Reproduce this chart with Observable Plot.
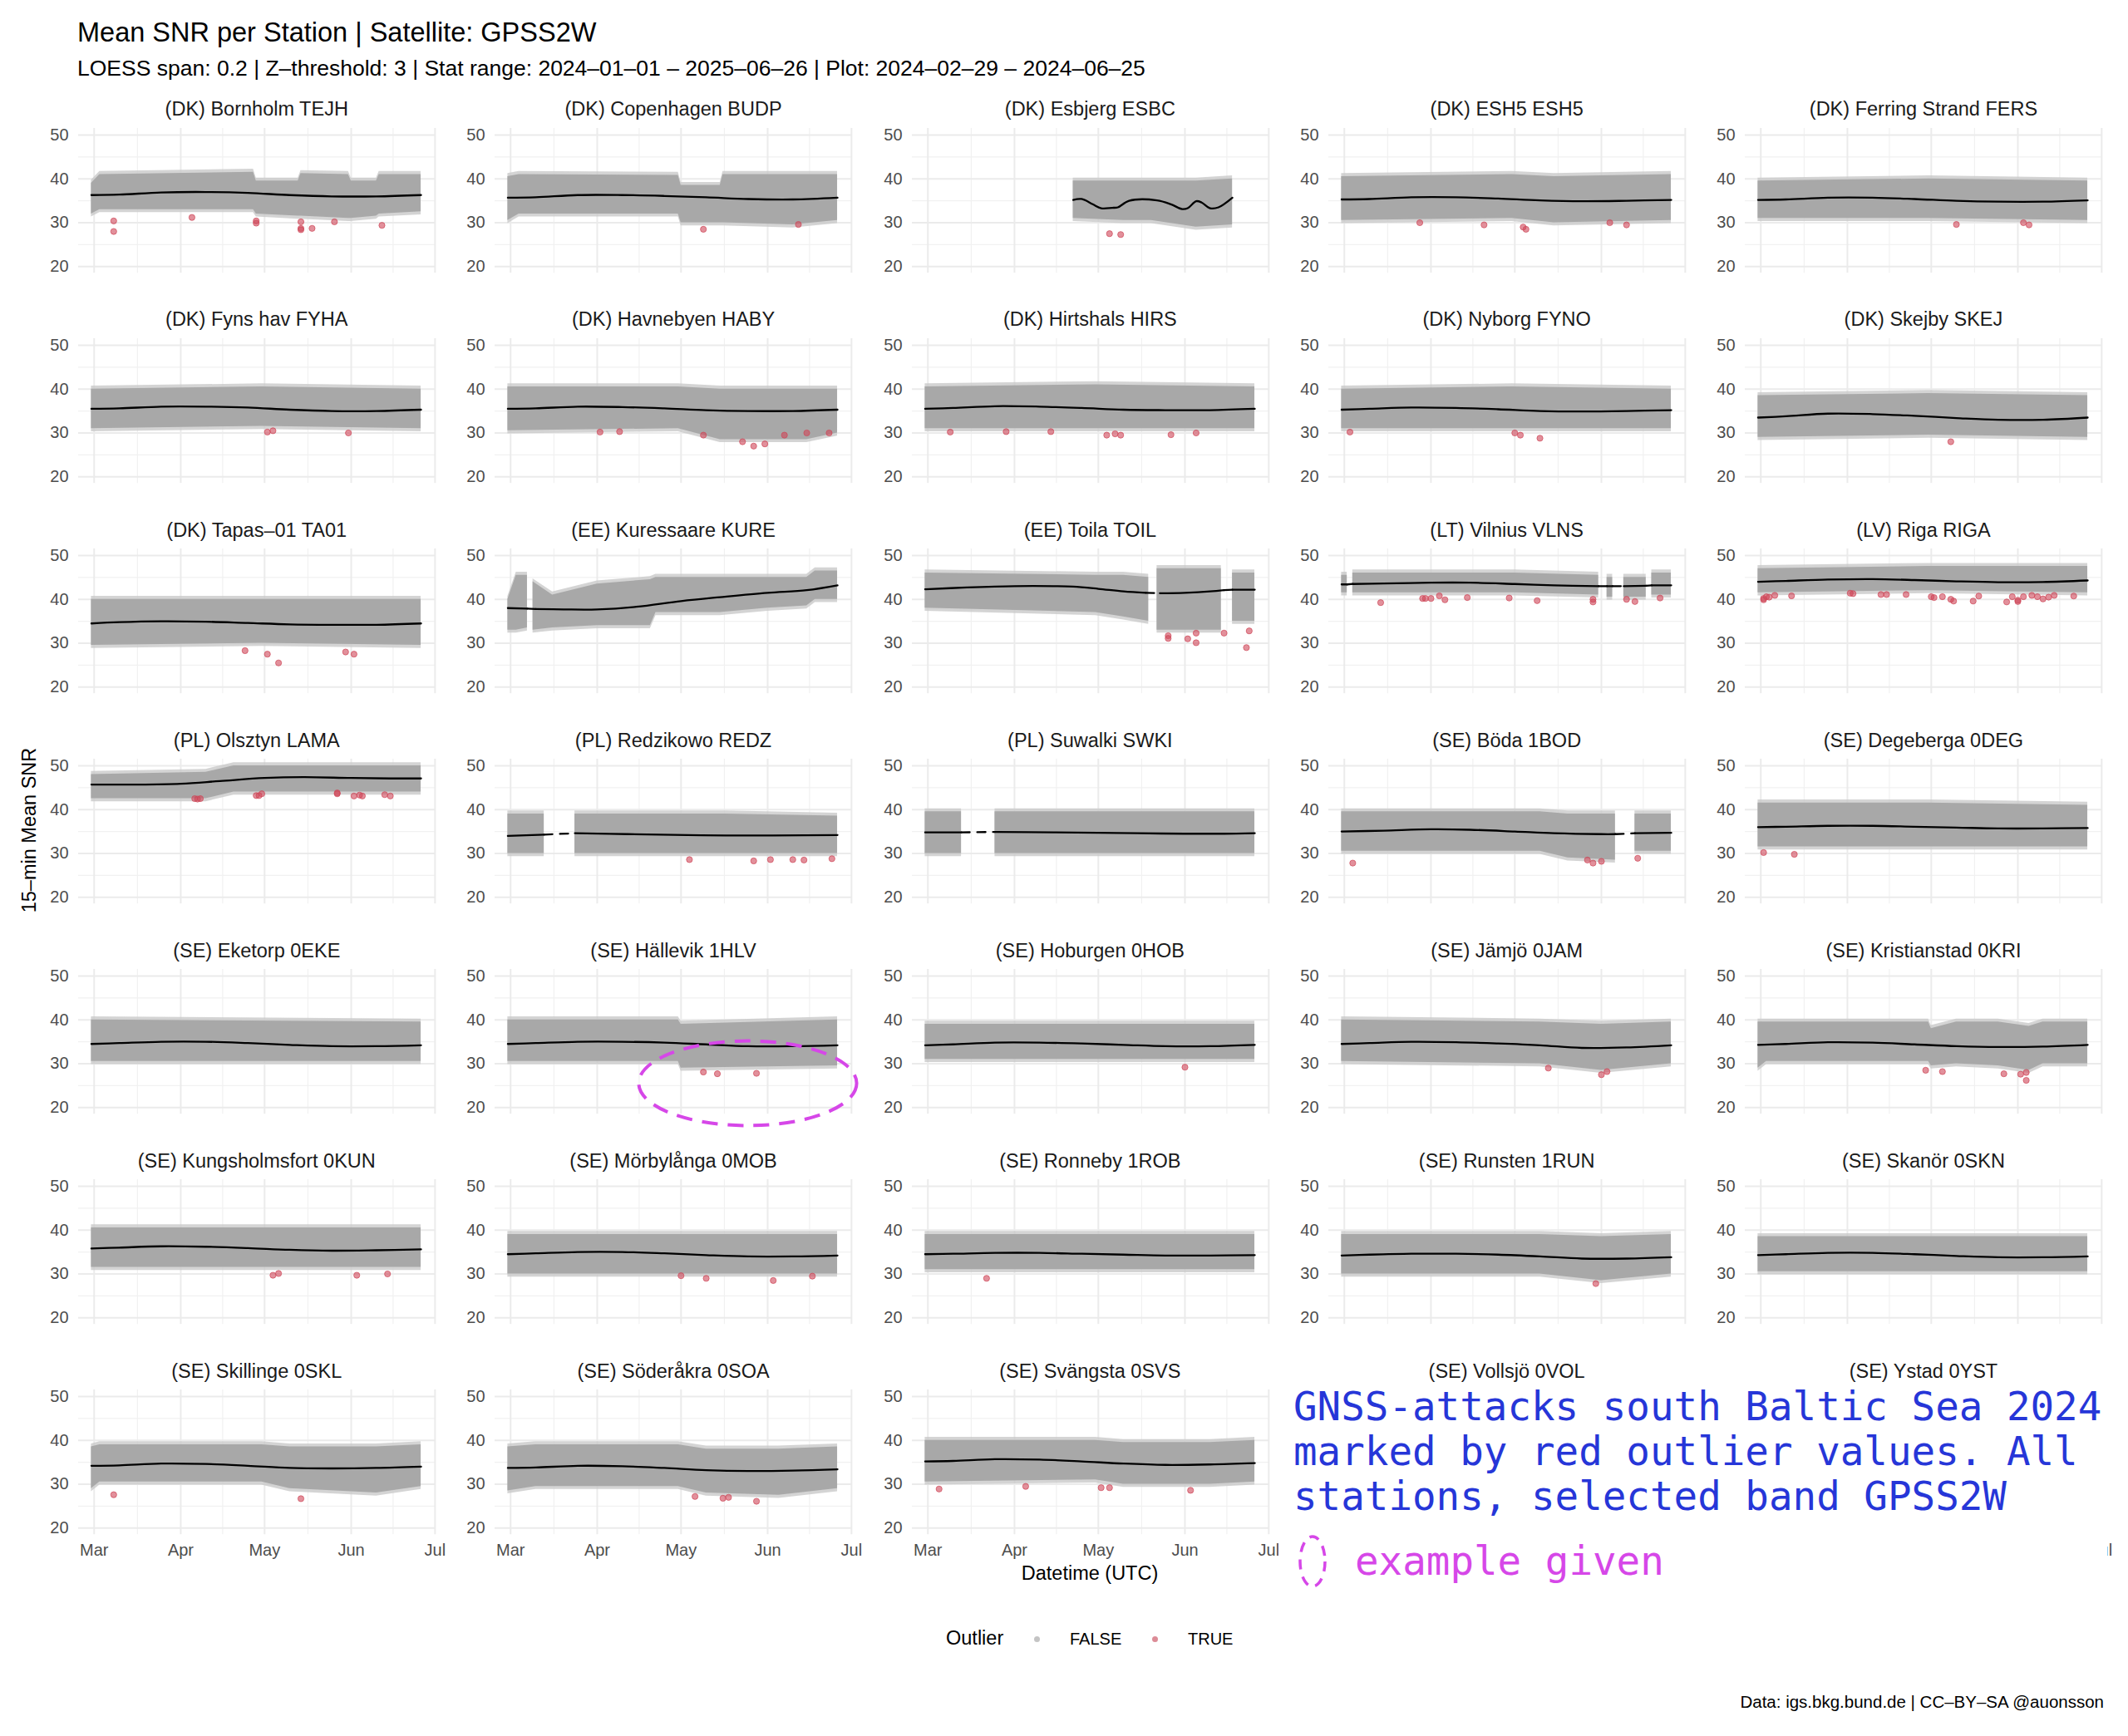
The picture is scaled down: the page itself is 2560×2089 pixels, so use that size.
<!DOCTYPE html>
<html><head><meta charset="utf-8">
<script src="https://cdn.jsdelivr.net/npm/d3@7"></script>
<script src="https://cdn.jsdelivr.net/npm/@observablehq/plot@0.6"></script>
<style>
body{margin:0;background:#fff}
#root{position:relative;width:2560px;height:2089px;overflow:hidden;background:#fff;font-family:"Liberation Sans",Arial,Helvetica,sans-serif;color:#000}
.t{position:absolute;white-space:nowrap;line-height:1}
</style></head><body><div id="root"></div>
<script>
// ---------------- DATA ----------------
const stationNames = [
 "(DK) Bornholm TEJH","(DK) Copenhagen BUDP","(DK) Esbjerg ESBC","(DK) ESH5 ESH5","(DK) Ferring Strand FERS",
 "(DK) Fyns hav FYHA","(DK) Havnebyen HABY","(DK) Hirtshals HIRS","(DK) Nyborg FYNO","(DK) Skejby SKEJ",
 "(DK) Tapas–01 TA01","(EE) Kuressaare KURE","(EE) Toila TOIL","(LT) Vilnius VLNS","(LV) Riga RIGA",
 "(PL) Olsztyn LAMA","(PL) Redzikowo REDZ","(PL) Suwalki SWKI","(SE) Böda 1BOD","(SE) Degeberga 0DEG",
 "(SE) Eketorp 0EKE","(SE) Hällevik 1HLV","(SE) Hoburgen 0HOB","(SE) Jämjö 0JAM","(SE) Kristianstad 0KRI",
 "(SE) Kungsholmsfort 0KUN","(SE) Mörbylånga 0MOB","(SE) Ronneby 1ROB","(SE) Runsten 1RUN","(SE) Skanör 0SKN",
 "(SE) Skillinge 0SKL","(SE) Söderåkra 0SOA","(SE) Svängsta 0SVS","(SE) Vollsjö 0VOL","(SE) Ystad 0YST"
];
const stationCodes = stationNames.map(s => s.split(" ").pop());
// panels hidden under the annotation box
const coveredStations = ["0VOL", "0YST"];

const monthTicks = ["03-01","04-01","05-01","06-01","07-01"];
const midMonthTicks = ["2024-03-16T12:00:00Z","2024-04-16T00:00:00Z","2024-05-16T12:00:00Z","2024-06-16T00:00:00Z"];
const snrTicks = [20,30,40,50];
const snrMinorTicks = [25,35,45];

// LOESS values at common dates
const loessDates = ["02-29","03-10","03-25","04-10","04-25","05-10","05-25","06-10","06-26"];
const loessStd = [
 ["TEJH",[36.3,36.4,36.9,37.0,36.8,36.3,36.0,36.0,36.3]],
 ["BUDP",[35.7,35.8,36.3,36.3,36.1,35.8,35.4,35.3,35.7]],
 ["ESH5",[35.3,35.4,35.8,35.8,35.5,35.1,34.9,35.0,35.2]],
 ["FERS",[35.2,35.3,35.7,35.7,35.4,35.0,34.8,34.8,35.1]],
 ["FYHA",[35.5,35.6,36.0,36.0,35.8,35.3,35.0,35.0,35.3]],
 ["HABY",[35.5,35.6,36.0,35.9,35.6,35.2,35.0,35.0,35.3]],
 ["HIRS",[35.5,35.7,36.1,36.0,35.7,35.3,35.2,35.2,35.5]],
 ["FYNO",[35.3,35.5,35.8,35.7,35.4,35.0,34.9,35.0,35.2]],
 ["SKEJ",[33.5,33.8,34.4,34.3,33.9,33.4,33.0,33.0,33.5]],
 ["TA01",[34.5,34.8,35.0,34.9,34.6,34.3,34.2,34.2,34.5]],
 ["RIGA",[44.0,44.2,44.5,44.6,44.4,44.1,43.9,43.95,44.3]],
 ["0DEG",[36.0,36.1,36.3,36.3,36.1,35.9,35.7,35.7,35.8]],
 ["0EKE",[34.5,34.7,35.0,35.0,34.7,34.3,34.0,34.0,34.2]],
 ["1HLV",[34.5,34.7,35.0,35.0,34.8,34.4,34.0,34.0,34.2]],
 ["0HOB",[34.2,34.4,34.8,34.8,34.6,34.3,34.0,34.0,34.3]],
 ["0JAM",[34.5,34.7,35.0,34.9,34.6,34.2,33.6,33.7,34.2]],
 ["0KRI",[34.3,34.5,34.9,34.8,34.4,34.0,33.8,33.9,34.3]],
 ["0KUN",[35.8,36.0,36.3,36.2,35.9,35.5,35.3,35.4,35.6]],
 ["0MOB",[34.5,34.7,35.0,35.0,34.7,34.3,34.0,34.0,34.2]],
 ["1ROB",[34.5,34.6,34.8,34.8,34.6,34.4,34.2,34.2,34.3]],
 ["1RUN",[34.2,34.4,34.6,34.6,34.4,34.0,33.5,33.5,33.8]],
 ["0SKN",[34.3,34.5,34.8,34.8,34.5,34.1,33.8,33.8,34.0]],
 ["0SKL",[34.2,34.3,34.7,34.6,34.2,33.7,33.6,33.7,34.0]],
 ["0SOA",[33.7,33.8,34.2,34.1,33.7,33.2,33.0,33.1,33.4]],
 ["0SVS",[35.2,35.3,35.7,35.6,35.2,34.7,34.4,34.5,34.8]]
];
// LOESS values at own dates (null = data gap)
const loessCustom = [
 ["ESBC",[["04-22",35.2],["04-25",35.4],["04-29",34.2],["05-02",33.3],["05-06",33.4],["05-08",33.5],["05-12",35.0],["05-22",35.1],["05-27",34.2],["05-31",33.1],["06-02",33.3],["06-05",34.9],["06-07",34.6],["06-10",33.3],["06-13",33.5],["06-18",35.7]]],
 ["KURE",[["02-29",38.0],["03-07",37.9],["03-08",null],["03-10",37.8],["03-20",37.7],["04-01",37.7],["04-15",38.3],["05-01",39.6],["05-15",40.5],["06-01",41.5],["06-15",42.1],["06-26",43.2]]],
 ["TOIL",[["02-29",42.3],["03-15",42.7],["04-01",43.0],["04-15",43.0],["04-22",42.9],["05-01",42.4],["05-10",41.8],["05-18",41.5],["05-20",null],["05-23",41.4],["06-01",41.5],["06-10",41.8],["06-15",42.1],["06-16",null],["06-18",42.2],["06-26",42.2]]],
 ["VLNS",[["02-29",43.4],["03-02",43.4],["03-03",null],["03-04",43.5],["03-15",43.6],["04-01",43.8],["04-15",43.8],["05-01",43.5],["05-15",43.2],["05-31",43.0],["06-02",null],["06-03",43.0],["06-05",43.0],["06-07",null],["06-09",43.0],["06-17",43.1],["06-18",null],["06-19",43.2],["06-26",43.2]]],
 ["LAMA",[["02-29",45.7],["03-15",45.7],["04-01",45.9],["04-15",46.5],["05-01",47.2],["05-15",47.4],["06-01",47.2],["06-15",47.1],["06-26",47.1]]],
 ["REDZ",[["02-29",34.0],["03-13",34.3],["03-18",null],["03-24",34.6],["04-12",34.4],["05-17",34.1],["06-26",34.2]]],
 ["SWKI",[["02-29",34.8],["03-13",34.8],["03-19",null],["03-25",34.9],["04-15",34.8],["05-01",34.7],["05-15",34.6],["06-01",34.5],["06-15",34.5],["06-26",34.6]]],
 ["1BOD",[["02-29",35.0],["03-15",35.2],["04-01",35.5],["04-15",35.4],["05-01",35.0],["05-15",34.6],["06-01",34.4],["06-06",34.4],["06-09",null],["06-13",34.6],["06-26",34.7]]]
];
// Grey point cloud envelope: [date, low, high] (null = gap)
const bandEnvelopes = [
 ["TEJH",[["02-29",32,39],["03-03",33,41],["04-27",33,41.5],["04-28",32,39.5],["05-13",31.5,39.5],["05-14",31.5,41.2],["05-31",31,41],["06-01",31,39.5],["06-10",31.5,39.5],["06-11",32,41],["06-26",32.5,41]]],
 ["BUDP",[["02-29",30.5,40.5],["03-04",32,41],["04-30",32,40.8],["05-01",30,38.5],["05-15",30,38.5],["05-16",30,41],["06-10",29.5,41],["06-26",30.5,41]]],
 ["ESBC",[["04-22",31,39.5],["05-10",30.5,39.5],["05-20",30.5,39.5],["06-05",29,39.5],["06-18",29.5,40]]],
 ["ESH5",[["02-29",30.5,40.5],["04-30",31,41],["05-15",30,40.5],["06-26",30.5,41]]],
 ["FERS",[["02-29",31,39.5],["04-30",31,40],["06-26",30.5,39.5]]],
 ["FYHA",[["02-29",31,40],["04-30",31.5,40.5],["06-26",31,40]]],
 ["HABY",[["02-29",30.5,40.5],["04-30",31,40.5],["05-15",28.5,40],["06-15",28.5,40],["06-26",30,40]]],
 ["HIRS",[["02-29",31,40.5],["04-30",31,41],["06-26",31,40.5]]],
 ["FYNO",[["02-29",31,40],["04-30",31,40.5],["06-26",31,40]]],
 ["SKEJ",[["02-29",29,38.5],["04-30",29.5,39],["06-26",29,38.5]]],
 ["TA01",[["02-29",29.5,40],["04-30",30,40],["06-26",29.5,40]]],
 ["KURE",[["02-29",33,40],["03-03",33,45.5],["03-07",33.5,45.5],["03-08",null,null],["03-09",33,44],["03-16",33.5,41],["04-01",34,43.5],["04-20",34,44.5],["04-22",37,45],["05-15",37,45],["06-01",38,45],["06-15",38.5,45],["06-18",40,46.5],["06-26",40,46.5]]],
 ["TOIL",[["02-29",38,46],["04-30",37,45.5],["05-10",36,45.5],["05-19",35,45],["05-20",null,null],["05-22",33,47],["06-14",33,47],["06-16",null,null],["06-18",35,46],["06-26",35,46]]],
 ["VLNS",[["02-29",41.5,45.5],["03-02",41.5,45.5],["03-03",null,null],["03-04",41.5,46],["05-01",41.5,46],["05-31",41,45.5],["06-02",null,null],["06-03",40.5,45],["06-05",40.5,45],["06-07",null,null],["06-09",40.5,45],["06-17",40.5,45],["06-18",null,null],["06-19",41,46],["06-26",41,46]]],
 ["RIGA",[["02-29",41.5,47],["04-30",42,47.5],["06-26",41.5,47.5]]],
 ["LAMA",[["02-29",42.5,48],["04-10",42.5,48.5],["04-20",44,50],["06-26",44,50]]],
 ["REDZ",[["02-29",30,39],["03-13",30,39],["03-14",null,null],["03-24",30,39],["05-17",30,39],["06-26",30,38.5]]],
 ["SWKI",[["02-29",30,39.5],["03-13",30,39.5],["03-14",null,null],["03-25",30,39.5],["06-26",30,39.5]]],
 ["1BOD",[["02-29",30.5,39.5],["05-10",30.5,39.5],["05-20",29,39],["06-06",28.5,39],["06-07",null,null],["06-13",30.5,39],["06-26",30.5,39]]],
 ["0DEG",[["02-29",31.5,41.5],["04-30",31.5,41.5],["06-26",31.5,41]]],
 ["0EKE",[["02-29",30.5,40],["06-26",30.5,39.5]]],
 ["1HLV",[["02-29",30.5,40],["04-30",30.5,40],["05-01",29,39],["06-26",29.5,40]]],
 ["0HOB",[["02-29",31,39],["06-26",31,39]]],
 ["0JAM",[["02-29",30.5,40],["05-10",30,39.5],["06-01",28.5,39],["06-26",30,39.5]]],
 ["0KRI",[["02-29",29,39.5],["03-03",30.5,39.5],["04-30",30.5,39.5],["05-01",29.5,38],["05-10",30,39.5],["05-25",29.5,39.5],["06-05",28.5,38.5],["06-10",30,39.5],["06-26",30,39.5]]],
 ["0KUN",[["02-29",31.5,40.5],["06-26",31.5,40.5]]],
 ["0MOB",[["02-29",30,39],["06-26",30,39]]],
 ["1ROB",[["02-29",31,39],["06-26",31,39]]],
 ["1RUN",[["02-29",30,39],["05-10",30,39],["06-01",28.5,38.5],["06-26",30,39]]],
 ["0SKN",[["02-29",30.5,38.5],["06-26",30.5,38.5]]],
 ["0SKL",[["02-29",29,38.5],["03-03",30.5,39],["04-30",30.5,39],["05-10",29,38.5],["06-10",28,38.5],["06-26",29.5,39]]],
 ["0SOA",[["02-29",28.5,38.5],["03-10",29.5,39],["04-30",29.5,39],["05-10",28,38],["06-05",27.5,38],["06-26",29,38.5]]],
 ["0SVS",[["02-29",30.5,40],["04-30",31,40],["05-10",30,39.5],["06-10",30,39.5],["06-26",30.5,40]]]
];
// Outliers (red): [date, SNR]
const outlierPoints = [
 ["TEJH",[["03-08",30.4],["03-08",28.0],["04-05",31.2],["04-28",30.4],["04-28",29.9],["05-14",30.2],["05-14",28.7],["05-14",28.4],["05-18",28.7],["05-26",30.2],["06-12",29.4]]],
 ["BUDP",[["05-09",28.5],["06-12",29.6]]],
 ["ESBC",[["05-05",27.5],["05-09",27.3]]],
 ["ESH5",[["03-28",30.0],["04-20",29.5],["05-04",29.0],["05-05",28.5],["06-04",30.0],["06-10",29.5]]],
 ["FERS",[["05-10",29.6],["06-03",30.0],["06-05",29.5]]],
 ["FYHA",[["05-02",30.2],["05-04",30.5],["05-31",30.0]]],
 ["HABY",[["04-02",30.2],["04-09",30.3],["05-09",29.5],["05-23",28.0],["05-27",27.0],["05-31",27.5],["06-07",29.5],["06-15",30.0],["06-23",30.0]]],
 ["HIRS",[["03-09",30.2],["03-29",30.3],["04-14",30.3],["05-04",29.5],["05-07",29.8],["05-09",29.5],["05-27",29.6],["06-05",30.0]]],
 ["FYNO",[["03-03",30.2],["05-01",30.0],["05-03",29.5],["05-10",28.8]]],
 ["SKEJ",[["05-08",28.0]]],
 ["TA01",[["04-24",28.3],["05-02",27.5],["05-06",25.5],["05-30",28.0],["06-02",27.5]]],
 ["TOIL",[["05-26",31.7],["05-26",31.1],["06-02",31.0],["06-05",32.3],["06-05",30.1],["06-15",32.3],["06-24",32.8],["06-23",29.0]]],
 ["VLNS",[["03-14",39.25],["03-29",40.2],["03-30",40.2],["04-01",40.2],["04-04",40.8],["04-06",39.9],["04-14",40.4],["04-29",40.3],["05-09",39.7],["05-29",40.0],["05-29",39.4],["06-10",40.0],["06-13",39.5],["06-22",40.3]]],
 ["RIGA",[["03-02",39.9],["03-02",40.2],["03-03",40.6],["03-04",40.5],["03-06",40.9],["03-12",40.8],["04-02",41.4],["04-03",41.3],["04-13",41.1],["04-15",41.1],["04-22",41.1],["05-01",40.6],["05-02",40.4],["05-05",40.6],["05-08",40.0],["05-09",39.6],["05-16",39.6],["05-18",40.75],["05-28",39.4],["05-30",40.6],["06-01",39.8],["06-01",39.5],["06-03",40.6],["06-06",40.9],["06-08",40.6],["06-10",40.1],["06-12",40.5],["06-14",40.9],["06-21",40.75]]],
 ["LAMA",[["04-06",42.5],["04-07",42.4],["04-08",42.5],["04-28",43.2],["04-29",43.2],["04-30",43.6],["05-27",43.8],["05-27",43.6],["06-02",43.1],["06-04",43.3],["06-05",43.1],["06-13",43.4],["06-15",43.1]]],
 ["REDZ",[["05-04",28.6],["05-27",28.3],["06-02",28.6],["06-10",28.6],["06-14",28.5],["06-24",28.8]]],
 ["1BOD",[["03-04",27.8],["05-27",28.5],["05-29",27.8],["06-01",28.2],["06-14",28.9]]],
 ["0DEG",[["03-02",30.2],["03-13",29.8]]],
 ["1HLV",[["05-09",28.1],["05-14",27.7],["05-28",27.8]]],
 ["0HOB",[["06-01",29.2]]],
 ["0JAM",[["05-13",29.0],["06-01",27.5],["06-03",28.2]]],
 ["0KRI",[["04-29",28.5],["05-05",28.2],["05-27",27.7],["06-02",27.6],["06-04",28.0],["06-04",26.2]]],
 ["0KUN",[["05-04",29.7],["05-06",30.1],["06-03",29.7],["06-14",30.0]]],
 ["0MOB",[["05-01",29.6],["05-10",29.0],["06-03",28.5],["06-17",29.5]]],
 ["1ROB",[["03-22",29.0]]],
 ["1RUN",[["05-30",27.8]]],
 ["0SKL",[["03-08",27.6],["05-14",26.7]]],
 ["0SOA",[["05-06",27.2],["05-16",26.8],["05-18",27.0],["05-28",26.1]]],
 ["0SVS",[["03-05",28.9],["04-05",29.5],["05-02",29.2],["05-05",29.2],["06-03",28.6]]]
];
// Highlight ellipse on (SE) Hällevik 1HLV, in data units
const highlightStation = "1HLV";
const highlightBox = {x1: "04-16", x2: "07-03", y1: 15.8, y2: 35.1};

// ---------------- LAYOUT ----------------
const root = document.getElementById("root");
const FONT = '"Liberation Sans", Arial, Helvetica, sans-serif';
const dt = s => new Date(s.length <= 5 ? `2024-${s}T00:00:00Z` : s);
const xDomain = [new Date("2024-02-24T10:00:00Z"), new Date("2024-07-01T06:00:00Z")];
const PANEL_W = 429.7, PANEL_H = 174.2;
const COL0 = 93.9, COL_STEP = 501.3, ROW0 = 153.8, ROW_STEP = 253.1;
const ML = 70;

function addText(txt, x, cy, fs, o = {}) {
  const el = document.createElement("div");
  el.className = "t";
  el.textContent = txt;
  el.style.fontSize = fs + "px";
  el.style.left = x + "px";
  el.style.top = cy + "px";
  const ax = o.anchor === "middle" ? "-50%" : o.anchor === "end" ? "-100%" : "0";
  el.style.transform = `translate(${ax}, -50%)` + (o.rotate ? ` rotate(${o.rotate}deg)` : "");
  if (o.color) el.style.color = o.color;
  if (o.font) el.style.fontFamily = o.font;
  root.appendChild(el);
  return el;
}

const loessMap = new Map();
loessStd.forEach(([c, vals]) => loessMap.set(c, vals.map((v, j) => [loessDates[j], v])));
loessCustom.forEach(([c, pts]) => loessMap.set(c, pts));
const bandMap = new Map(bandEnvelopes);
const outMap = new Map(outlierPoints);

stationCodes.forEach((code, i) => {
  const r = Math.floor(i / 5), c = i % 5;
  const bottom = r === 6;
  const covered = coveredStations.includes(code);
  const MB = bottom ? 50 : 0;
  const panelLeft = COL0 + c * COL_STEP, panelTop = ROW0 + r * ROW_STEP;

  const loess = (loessMap.get(code) || []).map(([d, v]) => ({date: dt(d), v: v == null ? NaN : v}));
  const band = (bandMap.get(code) || []).map(([d, lo, hi]) => ({date: dt(d), lo: lo == null ? NaN : lo, hi: hi == null ? NaN : hi}));
  const outs = (outMap.get(code) || []).map(([d, v]) => ({date: dt(d), v}));
  const gaps = [];
  loess.forEach((p, j) => {
    if (isNaN(p.v) && j > 0 && j < loess.length - 1) {
      gaps.push({date: loess[j - 1].date, v: loess[j - 1].v, g: j}, {date: loess[j + 1].date, v: loess[j + 1].v, g: j});
    }
  });

  const marks = [
    Plot.ruleY(snrMinorTicks, {stroke: "#f1f1f1", strokeWidth: 1.2}),
    Plot.ruleX(midMonthTicks.map(dt), {stroke: "#f1f1f1", strokeWidth: 1.2}),
    Plot.ruleY(snrTicks, {stroke: "#ebebeb", strokeWidth: 2}),
    Plot.ruleX(monthTicks.map(dt), {stroke: "#ebebeb", strokeWidth: 2}),
    Plot.areaY(band, {x: "date", y1: d => d.lo - 0.7, y2: d => d.hi + 0.7, fill: "#c9c9c9", fillOpacity: 0.8}),
    Plot.areaY(band, {x: "date", y1: "lo", y2: "hi", fill: "#a8a8a8"}),
    Plot.dot(outs, {x: "date", y: "v", r: 3.6, fill: "#cf4658", fillOpacity: 0.6, stroke: "#cf4658", strokeOpacity: 0.7, strokeWidth: 1}),
    Plot.line(loess, {x: "date", y: "v", stroke: "#000", strokeWidth: 2.3, curve: "catmull-rom"}),
    Plot.line(gaps, {x: "date", y: "v", z: "g", stroke: "#000", strokeWidth: 2.3, strokeDasharray: "10 9"})
  ];
  if (!covered) marks.push(Plot.axisY(snrTicks, {tickSize: 0, tickPadding: 12, fontSize: 20, fill: "#4d4d4d", label: null}));
  if (bottom) {
    // under the annotation box only the tail of the last "Jul" label peeks out
    const ticks = covered ? (c === 4 ? ["07-01"] : []) : monthTicks;
    if (ticks.length) marks.push(Plot.axisX(ticks.map(dt), {tickSize: 0, tickPadding: 11, tickFormat: d3.utcFormat("%b"), fontSize: 20, fill: "#4d4d4d", label: null}));
  }
  if (code === highlightStation) {
    marks.push((index, scales) => {
      const x1 = scales.x(dt(highlightBox.x1)), x2 = scales.x(dt(highlightBox.x2));
      const y1 = scales.y(highlightBox.y1), y2 = scales.y(highlightBox.y2);
      const e = document.createElementNS("http://www.w3.org/2000/svg", "ellipse");
      e.setAttribute("cx", (x1 + x2) / 2); e.setAttribute("cy", (y1 + y2) / 2);
      e.setAttribute("rx", Math.abs(x2 - x1) / 2); e.setAttribute("ry", Math.abs(y1 - y2) / 2);
      e.setAttribute("fill", "none"); e.setAttribute("stroke", "#d647e8");
      e.setAttribute("stroke-width", 4); e.setAttribute("stroke-dasharray", "19 12");
      return e;
    });
  }

  const svg = Plot.plot({
    width: ML + PANEL_W, height: PANEL_H + MB,
    marginLeft: ML, marginRight: 0, marginTop: 0, marginBottom: MB,
    x: {type: "utc", domain: xDomain, axis: null},
    y: {domain: [18.5, 51.5], axis: null},
    style: {fontFamily: FONT, fontSize: "20px", overflow: "visible", background: "transparent"},
    marks
  });
  svg.style.position = "absolute";
  svg.style.left = (panelLeft - ML) + "px";
  svg.style.top = panelTop + "px";
  root.appendChild(svg);

  addText(stationNames[i], panelLeft + PANEL_W / 2, 132.3 + r * ROW_STEP, 23.5, {anchor: "middle", color: "#1a1a1a"});
});

// titles
addText("Mean SNR per Station | Satellite: GPSS2W", 93, 39, 32.5);
addText("LOESS span: 0.2 | Z–threshold: 3 | Stat range: 2024–01–01 – 2025–06–26 | Plot: 2024–02–29 – 2024–06–25", 93, 82, 26.5);
addText("15–min Mean SNR", 36, 999, 23.5, {anchor: "middle", rotate: -90});
addText("Datetime (UTC)", 1311, 1894, 23.5, {anchor: "middle"});

// legend
addText("Outlier", 1138, 1972, 23.5);
function dotEl(x, y, color) {
  const d = document.createElement("div");
  Object.assign(d.style, {position: "absolute", left: (x - 3.5) + "px", top: (y - 3.5) + "px", width: "7px", height: "7px", borderRadius: "50%", background: color});
  root.appendChild(d);
}
dotEl(1247, 1972, "#c4c4c4");
addText("FALSE", 1287, 1972, 20);
dotEl(1389, 1972, "#dc8c97");
addText("TRUE", 1429, 1972, 20);

addText("Data: igs.bkg.bund.de | CC–BY–SA @auonsson", 2531, 2048, 20.5, {anchor: "end"});

// annotation box covering the last two panels
const box = document.createElement("div");
Object.assign(box.style, {position: "absolute", left: "1538px", top: "1668px", width: "997px", height: "258px", background: "#fff"});
root.appendChild(box);
const MONO = '"DejaVu Sans Mono", "Liberation Mono", monospace';
["GNSS-attacks south Baltic Sea 2024", "marked by red outlier values. All", "stations, selected band GPSS2W"].forEach((line, k) => {
  addText(line, 1556, 1693 + k * 54, 47.5, {font: MONO, color: "#2636d8"});
});
addText("example given", 1630, 1879, 47.5, {font: MONO, color: "#d647e8"});
const icon = document.createElementNS("http://www.w3.org/2000/svg", "svg");
icon.setAttribute("width", 50); icon.setAttribute("height", 80);
Object.assign(icon.style, {position: "absolute", left: "1554px", top: "1839px"});
icon.innerHTML = '<ellipse cx="25" cy="40" rx="15" ry="30" fill="none" stroke="#d647e8" stroke-width="3.5" stroke-dasharray="12 9"/>';
root.appendChild(icon);
</script></body></html>
